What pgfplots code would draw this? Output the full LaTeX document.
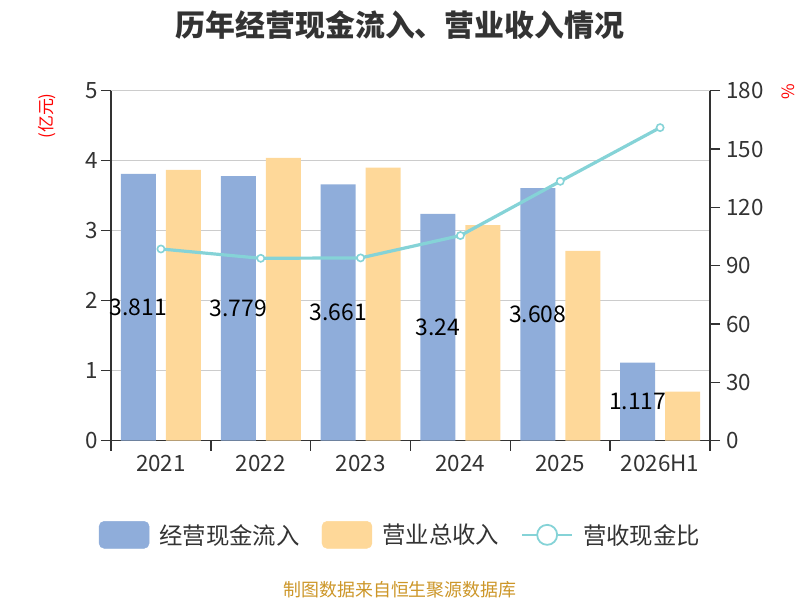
\documentclass[border=0pt]{standalone}
\usepackage{fontspec}
\setmainfont{Noto Sans CJK SC}
\usepackage{pgfplots}
\usepackage{pgfplotstable}
\pgfplotsset{compat=1.18}
\definecolor{cblue}{RGB}{143,173,218}
\definecolor{corange}{RGB}{254,216,153}
\definecolor{cline}{RGB}{133,211,215}
\definecolor{ctext}{RGB}{51,51,51}
\definecolor{cgrid}{RGB}{204,204,204}
\definecolor{csrc}{RGB}{204,150,40}

\pgfplotstableread{
x cash rev ratio
0 3.811 3.87 98.6
1 3.779 4.04 93.8
2 3.661 3.90 94.0
3 3.24 3.08 105.5
4 3.608 2.71 133.4
5 1.117 0.70 161.0
}\data

\pgfplotsset{
  common/.style={
    at={(111bp,159.3bp)}, anchor=south west,
    scale only axis, width=599bp, height=350bp,
    xmin=-0.5, xmax=5.5,
    tick align=outside,
    axis line style={draw=ctext, line width=1.5bp},
    every tick/.style={draw=ctext, line width=1.5bp},
    major tick length=10bp,
    ticklabel style={font=\fontsize{22.5}{22.5}\selectfont, text=ctext},
    /pgf/number format/assume math mode=true,
  }
}

\begin{document}
\begin{tikzpicture}[x=1bp,y=1bp]
\useasboundingbox (0,0) rectangle (800,600);
\begin{axis}[common,
  ymin=0, ymax=5, ytick={0,...,5},
  axis x line*=bottom, axis y line*=left,
  xtick={-0.5,0.5,...,5.5}, xticklabels={},
  extra x ticks={0,...,5},
  extra x tick labels={2021,2022,2023,2024,2025,2026H1},
  extra x tick style={major tick length=0pt, grid=none, xticklabel style={yshift=-11bp}},
  ymajorgrids, grid style={draw=cgrid, line width=1.2bp},
]
\addplot[ybar, bar width=35bp, bar shift=-22.5bp, fill=cblue, draw=none] table[x=x,y=cash]{\data};
\addplot[ybar, bar width=35bp, bar shift=22.5bp, fill=corange, draw=none] table[x=x,y=rev]{\data};
\addplot[draw=none, mark=none, nodes near coords, point meta=explicit symbolic,
  nodes near coords style={font=\fontsize{23}{23}\selectfont, text=black, anchor=center}]
  table[x expr=\thisrow{x}-0.225, y expr=\thisrow{cash}/2, meta=cash]{\data};
\end{axis}
\begin{axis}[common,
  ymin=0, ymax=180, ytick={0,30,...,180},
  axis y line*=right, axis x line=none,
  yticklabel style={xshift=3bp},
  legend columns=3,
  legend style={draw=none, fill=none, at={(0.4825,-0.269)}, anchor=center,
    font=\fontsize{23.5}{23.5}\selectfont, text=ctext,
    nodes={inner sep=1bp},
    /tikz/every odd column/.append style={column sep=9bp},
    /tikz/every even column/.append style={column sep=21bp}},
  legend cell align=left,
]
\addlegendimage{legend image code/.code={\fill[cblue, rounded corners=5bp] (0bp,-13.5bp) rectangle (50bp,13.5bp);}}
\addlegendentry{经营现金流入}
\addlegendimage{legend image code/.code={\fill[corange, rounded corners=5bp] (0bp,-13.5bp) rectangle (50bp,13.5bp);}}
\addlegendentry{营业总收入}
\addplot[cline, line width=3.2bp, mark=*, mark size=3.6bp,
  mark options={fill=white, draw=cline, line width=1.6bp},
  legend image code/.code={\draw[cline, line width=1.8bp] (0bp,0bp) -- (50bp,0bp); \draw[cline, fill=white, line width=1.8bp] (25bp,0bp) circle (10bp);}]
  table[x=x,y=ratio]{\data};
\addlegendentry{营收现金比}
\end{axis}
\node[font=\fontsize{30}{30}\selectfont\bfseries, text=ctext] at (400,575) {历年经营现金流入、营业收入情况};
\node[font=\fontsize{17}{17}\selectfont, text=red, rotate=90] at (47,484) {(亿元)};
\node[font=\fontsize{17}{17}\selectfont, text=red, rotate=90] at (788,508) {\%};
\node[font=\fontsize{18}{18}\selectfont, text=csrc] at (400,10) {制图数据来自恒生聚源数据库};
\end{tikzpicture}
\end{document}
